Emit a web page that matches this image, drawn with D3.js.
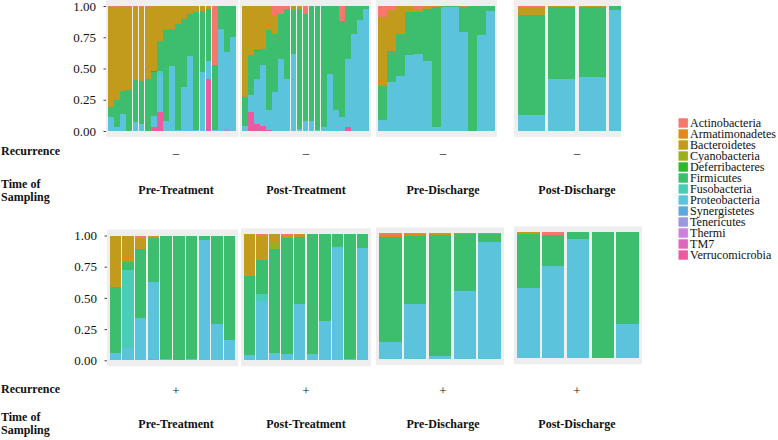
<!DOCTYPE html>
<html>
<head>
<meta charset="utf-8">
<script src="https://cdn.jsdelivr.net/npm/d3@7"></script>
<style>
  html, body { margin: 0; padding: 0; background: #ffffff; }
  svg { display: block; }
  text { font-family: "Liberation Serif", "Times New Roman", Times, serif; fill: #111; }
</style>
</head>
<body>
<svg id="chart" width="778" height="440" font-family="Liberation Serif, serif"></svg>
<script>
// ---------------- DATA ----------------
const phyla = ["Actinobacteria","Armatimonadetes","Bacteroidetes","Cyanobacteria","Deferribacteres",
  "Firmicutes","Fusobacteria","Proteobacteria","Synergistetes","Tenericutes","Thermi","TM7","Verrucomicrobia"];
const phylumColors = ["#F8776D","#E38A12","#C29A1C","#9AAE1E","#2DB82A","#3DBE6E","#4ACDB6",
  "#5BC3DB","#5AAAE0","#9A98DE","#CA82DE","#DC68BE","#EE5AA0"];

// each row = one sample: [Act, Arm, Bac, Cya, Def, Fir, Fus, Pro, Syn, Ten, The, TM7, Ver]
const topPreTreatment = [
  [0.01,0,0.80,0,0,0.075,0,0.115,0,0,0,0,0],
  [0.01,0,0.74,0,0,0.22,0,0.03,0,0,0,0,0],
  [0,0,0.68,0,0,0.18,0,0.14,0,0,0,0,0],
  [0.01,0,0.66,0,0,0.33,0,0,0,0,0,0,0],
  [0,0,0.59,0,0,0.34,0,0.07,0,0,0,0,0],
  [0.01,0,0.59,0,0,0.34,0,0.06,0,0,0,0,0],
  [0.01,0,0.57,0,0,0.42,0,0,0,0,0,0,0],
  [0,0,0.52,0,0.01,0.35,0,0.09,0,0,0,0,0.03],
  [0,0,0.28,0,0,0.24,0.02,0.31,0,0,0,0,0.15],
  [0,0,0.19,0,0,0.73,0,0.08,0,0,0,0,0],
  [0,0,0.18,0,0,0.30,0,0.52,0,0,0,0,0],
  [0,0,0.14,0,0,0.85,0,0.01,0,0,0,0,0],
  [0,0,0.10,0,0,0.55,0,0.35,0,0,0,0,0],
  [0,0,0.06,0,0,0.34,0,0.60,0,0,0,0,0],
  [0,0,0.05,0,0,0.94,0,0.01,0,0,0,0,0],
  [0,0,0.04,0,0,0.49,0,0.47,0,0,0,0,0],
  [0,0,0.02,0,0,0.42,0,0.14,0,0,0,0,0.42],
  [0.47,0,0,0,0,0.52,0,0.01,0,0,0,0,0],
  [0,0,0,0,0,0.18,0,0.82,0,0,0,0,0],
  [0,0,0,0,0,0.37,0,0.61,0,0.02,0,0,0],
  [0,0,0,0,0,0.25,0,0.75,0,0,0,0,0]
];
const topPostTreatment = [
  [0,0,0.73,0,0,0.23,0,0.04,0,0,0,0,0],
  [0,0,0.39,0,0,0.32,0,0.14,0,0,0,0,0.15],
  [0,0,0.35,0,0.01,0.22,0.01,0.35,0,0,0,0,0.06],
  [0,0,0.34,0,0,0.13,0,0.49,0,0,0,0,0.04],
  [0,0,0.19,0,0,0.64,0,0.16,0,0,0,0,0.01],
  [0.07,0,0.15,0,0,0.47,0,0.31,0,0,0,0,0],
  [0.06,0,0,0,0,0.36,0,0.58,0,0,0,0,0],
  [0.02,0,0,0,0,0.56,0,0.42,0,0,0,0,0],
  [0,0,0.03,0,0,0.35,0,0.62,0,0,0,0,0],
  [0,0,0.02,0,0,0.96,0,0.02,0,0,0,0,0],
  [0.06,0,0,0,0,0.86,0,0.08,0,0,0,0,0],
  [0,0,0,0,0,0.92,0,0.08,0,0,0,0,0],
  [0,0,0,0,0,0.99,0,0.01,0,0,0,0,0],
  [0,0,0,0,0,0.97,0,0.03,0,0,0,0,0],
  [0,0,0,0,0,0.54,0,0.46,0,0,0,0,0],
  [0,0,0,0,0,0.83,0,0.17,0,0,0,0,0],
  [0.12,0,0,0,0,0.77,0,0.11,0,0,0,0,0],
  [0,0,0,0,0,0.42,0,0.55,0,0,0,0,0.03],
  [0,0,0,0,0,0.22,0,0.78,0,0,0,0,0],
  [0,0,0,0,0,0.11,0,0.89,0,0,0,0,0],
  [0,0,0,0,0,0.025,0,0.975,0,0,0,0,0]
];
const topPreDischarge = [
  [0.09,0,0.55,0,0,0.27,0,0.09,0,0,0,0,0],
  [0.03,0,0.33,0,0,0.25,0,0.39,0,0,0,0,0],
  [0,0,0.22,0,0,0.34,0,0.44,0,0,0,0,0],
  [0,0,0.05,0,0,0.34,0,0.61,0,0,0,0,0],
  [0.03,0,0.02,0,0,0.33,0,0.62,0,0,0,0,0],
  [0,0,0.02,0,0,0.42,0,0.56,0,0,0,0,0],
  [0,0,0.01,0,0,0.96,0,0.03,0,0,0,0,0],
  [0,0,0,0,0,0.01,0,0.99,0,0,0,0,0],
  [0,0,0,0,0,0.01,0,0.99,0,0,0,0,0],
  [0,0,0.01,0,0,0.20,0,0.79,0,0,0,0,0],
  [0,0,0,0,0,1.00,0,0,0,0,0,0,0],
  [0,0,0,0,0,0.23,0,0.77,0,0,0,0,0],
  [0,0,0,0,0,0.04,0,0.96,0,0,0,0,0]
];
const topPostDischarge = [
  [0.01,0,0.06,0,0,0.80,0,0.13,0,0,0,0,0],
  [0,0,0.01,0,0,0.57,0,0.42,0,0,0,0,0],
  [0,0,0.01,0,0,0.56,0,0.43,0,0,0,0,0],
  [0,0,0,0,0,0.03,0,0.97,0,0,0,0,0]
];
const bottomPreTreatment = [
  [0,0,0.41,0,0,0.53,0,0.06,0,0,0,0,0],
  [0,0,0.21,0,0,0.07,0.625,0.095,0,0,0,0,0],
  [0.02,0,0.09,0,0,0.555,0,0.335,0,0,0,0,0],
  [0,0,0.02,0,0,0.35,0,0.62,0,0.01,0,0,0],
  [0,0,0,0,0,0.99,0,0.01,0,0,0,0,0],
  [0,0,0,0,0,1.00,0,0,0,0,0,0,0],
  [0,0,0,0,0,0.99,0,0.01,0,0,0,0,0],
  [0,0,0,0,0,0.04,0,0.96,0,0,0,0,0],
  [0,0,0,0,0,0.71,0,0.29,0,0,0,0,0],
  [0,0,0,0,0,0.84,0,0.16,0,0,0,0,0]
];
const bottomPostTreatment = [
  [0,0,0.33,0,0,0.63,0,0.04,0,0,0,0,0],
  [0.01,0,0.19,0,0,0.27,0.06,0.47,0,0,0,0,0],
  [0,0,0.06,0.06,0,0.82,0,0.06,0,0,0,0,0],
  [0.01,0,0.02,0,0,0.92,0,0.05,0,0,0,0,0],
  [0,0,0.02,0,0,0.53,0,0.45,0,0,0,0,0],
  [0,0,0,0,0,0.95,0,0.05,0,0,0,0,0],
  [0,0,0,0,0,0.69,0,0.31,0,0,0,0,0],
  [0,0,0,0,0,0.10,0,0.90,0,0,0,0,0],
  [0,0,0,0,0,0.99,0,0.01,0,0,0,0,0],
  [0,0,0,0,0,0.11,0,0.89,0,0,0,0,0]
];
const bottomPreDischarge = [
  [0.01,0.02,0,0,0,0.835,0,0.135,0,0,0,0,0],
  [0.005,0.015,0,0,0,0.54,0,0.44,0,0,0,0,0],
  [0,0,0.01,0,0,0.97,0,0.02,0,0,0,0,0],
  [0,0,0.005,0,0,0.455,0,0.54,0,0,0,0,0],
  [0,0,0.005,0,0,0.065,0,0.93,0,0,0,0,0]
];
const bottomPostDischarge = [
  [0,0,0.01,0,0,0.43,0,0.56,0,0,0,0,0],
  [0.02,0,0,0,0,0.25,0,0.73,0,0,0,0,0],
  [0,0,0,0,0,0.05,0,0.95,0,0,0,0,0],
  [0,0,0,0,0,1.00,0,0,0,0,0,0,0],
  [0,0,0,0,0,0.73,0,0.27,0,0,0,0,0]
];

const yTicks = [0, 0.25, 0.5, 0.75, 1];
const samplingLabels = ["Pre-Treatment","Post-Treatment","Pre-Discharge","Post-Discharge"];
const recurrenceTop = ["–","–","–","–"];
const recurrenceBottom = ["+","+","+","+"];

// ---------------- LAYOUT ----------------
const svg = d3.select("#chart");
const panels = [
  {data: topPreTreatment,    x: [108, 236], y: [131, 6], pad: 0.05, axis: true},
  {data: topPostTreatment,   x: [242, 369], y: [131, 6], pad: 0.05},
  {data: topPreDischarge,    x: [378, 495], y: [131, 6], pad: 0.1},
  {data: topPostDischarge,   x: [516, 638], y: [131, 6], pad: 0.1, clipRight: 621},
  {data: bottomPreTreatment, x: [109, 236], y: [360.3, 235.5], pad: 0.1, axis: true},
  {data: bottomPostTreatment,x: [243, 369], y: [360.3, 234.3], pad: 0.1},
  {data: bottomPreDischarge, x: [378, 502], y: [359, 233.3], pad: 0.1},
  {data: bottomPostDischarge,x: [516, 640], y: [358.3, 232.3], pad: 0.1}
];

const stack = d3.stack()
  .keys(d3.range(phyla.length).reverse())
  .value((d, k) => d[k]);

const defs = svg.append("defs");

panels.forEach((p, pi) => {
  const g = svg.append("g");
  const x = d3.scaleBand().domain(d3.range(p.data.length)).range(p.x)
    .paddingInner(p.pad).paddingOuter(p.pad / 2);
  const y = d3.scaleLinear().domain([0, 1]).range(p.y);

  const bgTop = Math.max(0, y(1) - 6);
  const bgLeft = p.x[0] - 2;
  const bgRight = p.clipRight ? p.clipRight : p.x[1] + 2;
  const inner = g.append("g");
  if (p.clipRight) {
    defs.append("clipPath").attr("id", "clip" + pi)
      .append("rect").attr("x", bgLeft).attr("y", 0)
      .attr("width", bgRight - bgLeft).attr("height", 440);
    inner.attr("clip-path", `url(#clip${pi})`);
  }

  // panel background
  inner.append("rect")
    .attr("x", bgLeft).attr("y", bgTop)
    .attr("width", bgRight - bgLeft)
    .attr("height", y(0) + 6 - bgTop)
    .attr("fill", "#EEEEEF");

  const series = stack(p.data);
  inner.selectAll("g.layer").data(series).join("g")
    .attr("class", "layer")
    .attr("fill", s => phylumColors[s.key])
    .selectAll("rect").data(s => s).join("rect")
    .attr("x", (d, i) => x(i))
    .attr("width", x.bandwidth())
    .attr("y", d => y(d[1]))
    .attr("height", d => Math.max(0, y(d[0]) - y(d[1])))
    .attr("shape-rendering", "crispEdges");

  if (p.axis) {
    const ax = g.append("g")
      .attr("transform", `translate(${p.x[0] - 2},0)`)
      .call(d3.axisLeft(y).tickValues(yTicks).tickFormat(d3.format(".2f"))
        .tickSize(2.5).tickPadding(7.5));
    ax.attr("font-family", null);
    ax.select(".domain").remove();
    ax.selectAll("line").attr("stroke", "#444");
    ax.selectAll("text").attr("font-size", 13).attr("fill", "#111");
  }
});

// ---------------- LABELS ----------------
const labelX = [176, 306, 443, 577];
function labelRow(recY, signs, timeY, sampY, labY) {
  svg.append("text").attr("x", 1).attr("y", recY).attr("dy", "0.35em")
    .attr("font-size", 12).attr("font-weight", "bold").text("Recurrence");
  svg.selectAll(null).data(signs).join("text")
    .attr("x", (d, i) => labelX[i]).attr("y", recY + 1).attr("dy", "0.35em")
    .attr("text-anchor", "middle").attr("font-size", 13).text(d => d);
  svg.append("text").attr("x", 1).attr("y", timeY).attr("dy", "0.35em")
    .attr("font-size", 12).attr("font-weight", "bold").text("Time of");
  svg.append("text").attr("x", 1).attr("y", sampY).attr("dy", "0.35em")
    .attr("font-size", 12).attr("font-weight", "bold").text("Sampling");
  svg.selectAll(null).data(samplingLabels).join("text")
    .attr("x", (d, i) => labelX[i]).attr("y", labY).attr("dy", "0.35em")
    .attr("text-anchor", "middle").attr("font-size", 12).attr("font-weight", "bold")
    .text(d => d);
}
labelRow(151, recurrenceTop, 184, 197, 190);
labelRow(389, recurrenceBottom, 417, 430, 424);

// ---------------- LEGEND ----------------
const legend = svg.append("g").attr("transform", "translate(678.5,0)");
const ly = d3.scalePoint().domain(phyla).range([123, 255]);
legend.selectAll("rect").data(phyla).join("rect")
  .attr("x", 0).attr("y", d => ly(d) - 4.7)
  .attr("width", 9.4).attr("height", 9.4)
  .attr("fill", (d, i) => phylumColors[i]);
legend.selectAll("text").data(phyla).join("text")
  .attr("x", 11.5).attr("y", d => ly(d)).attr("dy", "0.35em")
  .attr("font-size", 12.1).text(d => d);
</script>
</body>
</html>
